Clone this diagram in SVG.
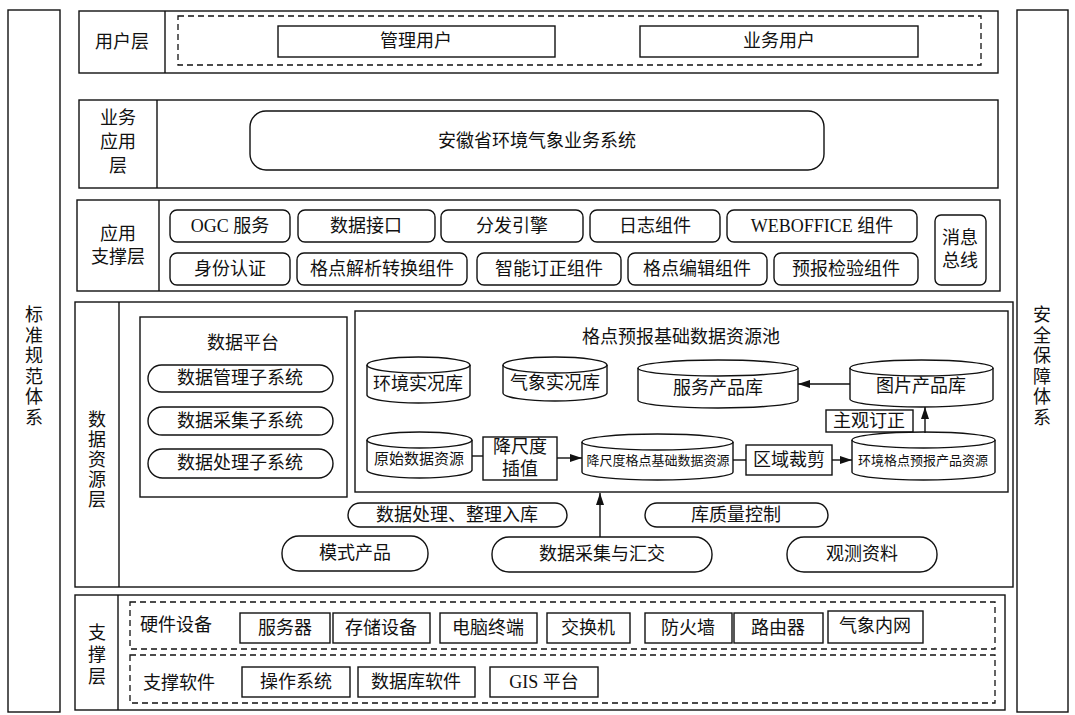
<svg xmlns="http://www.w3.org/2000/svg" width="1075" height="715" viewBox="0 0 1075 715">
<defs>
<style>
.b{fill:#fff;stroke:#111;stroke-width:1.4}
.d{fill:none;stroke:#111;stroke-width:1.3;stroke-dasharray:6 4}
.l{fill:none;stroke:#111;stroke-width:1.4}
.t{font-family:"Liberation Serif","Noto Sans CJK SC",serif;font-size:18px;text-anchor:middle;dominant-baseline:central;fill:#111}
.s{font-size:13px}
.m{font-size:15px}
.st{text-anchor:start}
</style>
<marker id="ah" markerWidth="12" markerHeight="8" refX="12" refY="4" orient="auto" markerUnits="userSpaceOnUse">
<path d="M0,0 L12,4 L0,8 Z" fill="#111"/>
</marker>
</defs>
<rect width="1075" height="715" fill="#fff"/>

<g id="col-standard">
<rect class="b" x="8" y="10" width="52" height="702"/>
<text class="t"><tspan x="34" y="315">标</tspan><tspan x="34" y="336">准</tspan><tspan x="34" y="356">规</tspan><tspan x="34" y="377">范</tspan><tspan x="34" y="397">体</tspan><tspan x="34" y="418">系</tspan></text>
</g>
<g id="col-security">
<rect class="b" x="1017" y="10" width="51" height="702"/>
<text class="t"><tspan x="1042" y="315">安</tspan><tspan x="1042" y="336">全</tspan><tspan x="1042" y="356">保</tspan><tspan x="1042" y="377">障</tspan><tspan x="1042" y="397">体</tspan><tspan x="1042" y="418">系</tspan></text>
</g>

<g id="layer-user">
<rect class="b" x="79" y="11" width="919" height="62"/>
<line class="l" x1="165" y1="11" x2="165" y2="73"/>
<text class="t" x="122" y="42">用户层</text>
<rect class="d" x="178" y="16" width="803" height="49"/>
<rect class="b" x="278" y="26" width="277" height="31"/>
<text class="t" x="416" y="41">管理用户</text>
<rect class="b" x="640" y="26" width="278" height="31"/>
<text class="t" x="779" y="41">业务用户</text>
</g>

<g id="layer-business">
<rect class="b" x="79" y="100" width="919" height="88"/>
<line class="l" x1="157" y1="100" x2="157" y2="188"/>
<text class="t"><tspan x="118" y="118">业务</tspan><tspan x="118" y="142">应用</tspan><tspan x="118" y="166">层</tspan></text>
<rect class="b" x="250" y="111" width="574" height="59" rx="16"/>
<text class="t" x="537" y="141">安徽省环境气象业务系统</text>
</g>

<g id="layer-appsupport">
<rect class="b" x="77" y="200" width="923" height="91"/>
<line class="l" x1="159" y1="200" x2="159" y2="291"/>
<text class="t"><tspan x="118" y="234">应用</tspan><tspan x="118" y="257">支撑层</tspan></text>
<rect class="b" x="170" y="210" width="120" height="32" rx="7"/><text class="t" x="230" y="226">OGC 服务</text>
<rect class="b" x="298" y="210" width="137" height="32" rx="7"/><text class="t" x="366" y="226">数据接口</text>
<rect class="b" x="441" y="210" width="142" height="32" rx="7"/><text class="t" x="512" y="226">分发引擎</text>
<rect class="b" x="590" y="210" width="130" height="32" rx="7"/><text class="t" x="655" y="226">日志组件</text>
<rect class="b" x="727" y="210" width="190" height="32" rx="7"/><text class="t" x="822" y="226">WEBOFFICE 组件</text>
<rect class="b" x="170" y="253" width="120" height="32" rx="7"/><text class="t" x="230" y="269">身份认证</text>
<rect class="b" x="297" y="253" width="170" height="32" rx="7"/><text class="t" x="382" y="269">格点解析转换组件</text>
<rect class="b" x="477" y="253" width="144" height="32" rx="7"/><text class="t" x="549" y="269">智能订正组件</text>
<rect class="b" x="628" y="253" width="139" height="32" rx="7"/><text class="t" x="697" y="269">格点编辑组件</text>
<rect class="b" x="774" y="253" width="144" height="32" rx="7"/><text class="t" x="846" y="269">预报检验组件</text>
<rect class="b" x="935" y="215" width="51" height="70" rx="6"/>
<text class="t"><tspan x="960" y="238">消息</tspan><tspan x="960" y="261">总线</tspan></text>
</g>

<g id="layer-data">
<rect class="b" x="75" y="302" width="938" height="285"/>
<line class="l" x1="119" y1="302" x2="119" y2="587"/>
<text class="t"><tspan x="97" y="420">数</tspan><tspan x="97" y="440">据</tspan><tspan x="97" y="460">资</tspan><tspan x="97" y="480">源</tspan><tspan x="97" y="500">层</tspan></text>
</g>

<g id="data-platform">
<rect class="b" x="140" y="317" width="207" height="180"/>
<text class="t" x="243" y="343">数据平台</text>
<rect class="b" x="148" y="365" width="185" height="27" rx="13.5"/><text class="t" x="240" y="378">数据管理子系统</text>
<rect class="b" x="148" y="407" width="185" height="28" rx="14"/><text class="t" x="240" y="421">数据采集子系统</text>
<rect class="b" x="148" y="449" width="185" height="29" rx="14.5"/><text class="t" x="240" y="463">数据处理子系统</text>
</g>

<g id="pool">
<rect class="b" x="355" y="311" width="653" height="181"/>
<text class="t" x="681" y="337">格点预报基础数据资源池</text>
</g>

<g id="db-env-obs">
<path class="b" d="M367,365 A51.5,8 0 0 1 470,365 V395 A51.5,8 0 0 1 367,395 Z"/>
<path class="l" d="M367,365 A51.5,8 0 0 0 470,365"/>
<text class="t" x="418" y="384">环境实况库</text>
</g>
<g id="db-met-obs">
<path class="b" d="M503,365 A52,8 0 0 1 607,365 V393 A52,8 0 0 1 503,393 Z"/>
<path class="l" d="M503,365 A52,8 0 0 0 607,365"/>
<text class="t" x="555" y="383">气象实况库</text>
</g>
<g id="db-service">
<path class="b" d="M638,368 A80,8 0 0 1 798,368 V400 A80,8 0 0 1 638,400 Z"/>
<path class="l" d="M638,368 A80,8 0 0 0 798,368"/>
<text class="t" x="718" y="388">服务产品库</text>
</g>
<g id="db-image">
<path class="b" d="M850,368 A71.5,8 0 0 1 993,368 V399 A71.5,8 0 0 1 850,399 Z"/>
<path class="l" d="M850,368 A71.5,8 0 0 0 993,368"/>
<text class="t" x="921" y="386">图片产品库</text>
</g>
<g id="box-subjective">
<rect class="b" x="826" y="410" width="87" height="22"/>
<text class="t" x="869" y="421">主观订正</text>
</g>
<g id="db-raw">
<path class="b" d="M367,440 A52.5,8 0 0 1 472,440 V470 A52.5,8 0 0 1 367,470 Z"/>
<path class="l" d="M367,440 A52.5,8 0 0 0 472,440"/>
<text class="t m" x="419" y="459">原始数据资源</text>
</g>
<g id="box-downscale">
<rect class="b" x="483" y="437" width="74" height="43"/>
<text class="t"><tspan x="520" y="447">降尺度</tspan><tspan x="520" y="469">插值</tspan></text>
</g>
<g id="db-downscaled">
<path class="b" d="M582,442 A75.5,8 0 0 1 733,442 V472 A75.5,8 0 0 1 582,472 Z"/>
<path class="l" d="M582,442 A75.5,8 0 0 0 733,442"/>
<text class="t s" x="658" y="460">降尺度格点基础数据资源</text>
</g>
<g id="box-crop">
<rect class="b" x="746" y="445" width="86" height="30"/>
<text class="t" x="789" y="460">区域裁剪</text>
</g>
<g id="db-envgrid">
<path class="b" d="M852,440 A71.5,8 0 0 1 995,440 V472 A71.5,8 0 0 1 852,472 Z"/>
<path class="l" d="M852,440 A71.5,8 0 0 0 995,440"/>
<text class="t s" x="923" y="460">环境格点预报产品资源</text>
</g>

<g id="sources">
<rect class="b" x="348" y="503" width="219" height="24" rx="12"/><text class="t" x="457" y="515">数据处理、整理入库</text>
<rect class="b" x="645" y="503" width="183" height="24" rx="12"/><text class="t" x="736" y="515">库质量控制</text>
<rect class="b" x="282" y="536" width="146" height="35" rx="17"/><text class="t" x="355" y="553">模式产品</text>
<rect class="b" x="492" y="537" width="220" height="35" rx="17"/><text class="t" x="602" y="554">数据采集与汇交</text>
<rect class="b" x="787" y="537" width="150" height="35" rx="17"/><text class="t" x="862" y="554">观测资料</text>
</g>

<g id="connectors">
<line class="l" x1="472" y1="456" x2="483" y2="456"/>
<line class="l" x1="557" y1="458" x2="582" y2="458" marker-end="url(#ah)"/>
<line class="l" x1="733" y1="460" x2="746" y2="460"/>
<line class="l" x1="832" y1="460" x2="852" y2="460" marker-end="url(#ah)"/>
<line class="l" x1="850" y1="384" x2="798" y2="384" marker-end="url(#ah)"/>
<line class="l" x1="925" y1="433" x2="925" y2="407" marker-end="url(#ah)"/>
<line class="l" x1="600" y1="537" x2="600" y2="493" marker-end="url(#ah)"/>
</g>

<g id="layer-support">
<rect class="b" x="75" y="595" width="930" height="115"/>
<line class="l" x1="118" y1="595" x2="118" y2="710"/>
<text class="t"><tspan x="97" y="633">支</tspan><tspan x="97" y="655">撑</tspan><tspan x="97" y="677">层</tspan></text>
<rect class="d" x="130" y="602" width="865" height="47"/>
<rect class="d" x="130" y="655" width="865" height="48"/>
<text class="t st" x="140" y="625">硬件设备</text>
<rect class="b" x="240" y="613" width="90" height="30"/><text class="t" x="285" y="628">服务器</text>
<rect class="b" x="333" y="613" width="97" height="30"/><text class="t" x="381" y="628">存储设备</text>
<rect class="b" x="440" y="613" width="97" height="30"/><text class="t" x="488" y="628">电脑终端</text>
<rect class="b" x="547" y="613" width="83" height="30"/><text class="t" x="588" y="628">交换机</text>
<rect class="b" x="645" y="613" width="87" height="30"/><text class="t" x="688" y="628">防火墙</text>
<rect class="b" x="734" y="613" width="89" height="30"/><text class="t" x="778" y="628">路由器</text>
<rect class="b" x="828" y="611" width="95" height="32"/><text class="t" x="875" y="626">气象内网</text>
<text class="t st" x="143" y="683">支撑软件</text>
<rect class="b" x="242" y="667" width="108" height="30"/><text class="t" x="296" y="682">操作系统</text>
<rect class="b" x="358" y="667" width="117" height="30"/><text class="t" x="416" y="682">数据库软件</text>
<rect class="b" x="490" y="667" width="108" height="30"/><text class="t" x="544" y="682">GIS 平台</text>
</g>
</svg>
